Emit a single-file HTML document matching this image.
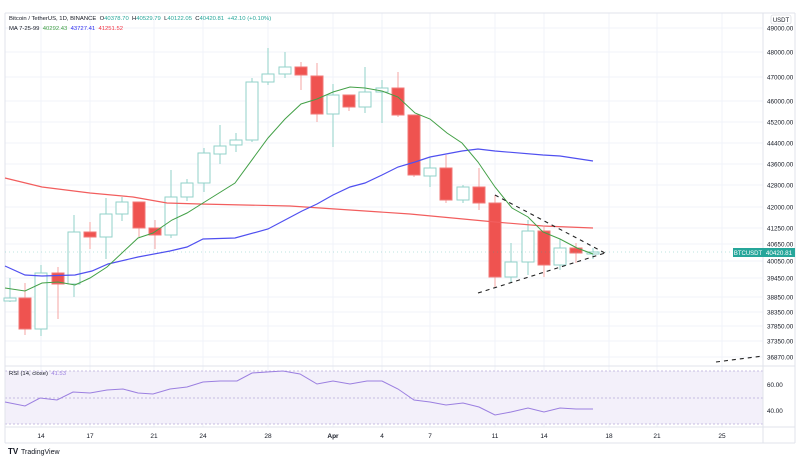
<!DOCTYPE html>
<html><head><meta charset="utf-8"><style>
html,body{margin:0;padding:0;background:#fff;width:800px;height:460px;overflow:hidden}
svg{display:block;font-family:"Liberation Sans",sans-serif}
text{white-space:pre}
</style></head><body>
<svg id="s" width="800" height="460" viewBox="0 0 800 460" xmlns="http://www.w3.org/2000/svg">
<rect x="0" y="0" width="800" height="460" fill="#fff"/>
<g id="grid"></g>
<rect x="5" y="371" width="758" height="53" fill="#f3f0fa"/>
<g stroke="#b8a9d9" stroke-width="0.8" stroke-dasharray="2,2">
<line x1="5" y1="371" x2="763" y2="371"/><line x1="5" y1="398" x2="763" y2="398"/><line x1="5" y1="424" x2="763" y2="424"/></g>
<g stroke="#e0e3eb" stroke-width="1" fill="none">
<line x1="5" y1="13" x2="795" y2="13"/><line x1="5" y1="13" x2="5" y2="443"/>
<line x1="5" y1="366" x2="795" y2="366"/><line x1="5" y1="427" x2="795" y2="427"/>
<line x1="5" y1="443" x2="795" y2="443"/><line x1="763" y1="13" x2="763" y2="443"/><line x1="795" y1="13" x2="795" y2="443"/></g>
<g id="candles"></g>
<polyline fill="none" stroke="#f25e5e" stroke-width="1.2" points="5,178 42,187 90,193 133,197 167,203 200,204 290,206 410,214 495,222 543,226 593,228"/>
<polyline fill="none" stroke="#5050f0" stroke-width="1.2" points="5,266 25,275 42,276 75,275 92,271 108,264 138,257 170,251 187,247 203,239 235,238 268,229 285,220 302,211 317,204 333,195 350,187 365,183 382,175 398,167 415,162 430,157 462,151 478,149 495,151 543,155 560,156 593,161"/>
<polyline fill="none" stroke="#43a047" stroke-width="1" points="5,288 25,291 42,283 58,282 75,285 90,278 107,267 138,238 153,233 172,220 187,213 203,203 235,183 268,138 285,119 301,104 317,99 333,92 350,87 365,88 382,91 398,97 415,113 430,119 447,133 462,143 478,162 495,187 512,208 528,217 543,232 560,239 577,248 593,254"/>
<line x1="5" y1="252" x2="763" y2="252" stroke="#26a69a" stroke-width="0.5" stroke-dasharray="1,3" opacity="0.6"/>
<g stroke="#222" stroke-width="1.1" stroke-dasharray="4,4" fill="none">
<line x1="495" y1="195" x2="605" y2="253"/><line x1="478" y1="293" x2="605" y2="253"/>
<line x1="716" y1="362" x2="763" y2="356"/></g>
<polyline fill="none" stroke="#9b7fe0" stroke-width="1" points="5,402 25,406 40,398 57,400 73,392 90,393 107,390 123,389 138,393 153,394 170,389 187,387 203,382 220,381 237,381 252,373 267,372 283,371 300,374 317,384 333,381 350,384 367,381 382,381 398,389 414,400 430,402 446,405 463,403 479,407 495,415 511,412 528,408 544,412 560,408 576,409 593,409"/>
<g font-size="5.9" fill="#131722">
<text x="9" y="20" xml:space="preserve">Bitcoin / TetherUS, 1D, BINANCE  O<tspan fill="#26a69a">40378.70</tspan>  H<tspan fill="#26a69a">40529.79</tspan>  L<tspan fill="#26a69a">40122.05</tspan>  C<tspan fill="#26a69a">40420.81</tspan>  <tspan fill="#26a69a">+42.10 (+0.10%)</tspan></text>
<text x="9" y="30" xml:space="preserve">MA 7-25-99  <tspan fill="#43a047">40292.43</tspan>  <tspan fill="#3030f0">43727.41</tspan>  <tspan fill="#f23645">41251.52</tspan></text>
<text x="9" y="375" xml:space="preserve">RSI (14, close)  <tspan fill="#9b7fe0">41.53</tspan></text>
</g>
<rect x="771" y="15" width="20" height="9" rx="2" fill="#fff" stroke="#d1d4dc" stroke-width="0.6"/>
<text x="781" y="22" font-size="6" fill="#131722" text-anchor="middle">USDT</text>
<g id="plabels" font-size="6.3" fill="#131722"></g>
<rect x="733" y="248" width="30" height="9" fill="#26a69a"/>
<text x="748" y="255" font-size="6" fill="#fff" text-anchor="middle">BTCUSDT</text>
<rect x="763" y="248" width="32" height="9" fill="#26a69a"/>
<text x="779" y="255" font-size="6.3" fill="#fff" text-anchor="middle">40420.81</text>
<g font-size="6.3" fill="#131722"><text x="767" y="387">60.00</text><text x="767" y="413">40.00</text></g>
<g id="tlabels" font-size="6.5" fill="#131722" text-anchor="middle"></g>
<text x="8" y="454" font-size="8" font-weight="bold" fill="#131722">TV</text>
<text x="21" y="454" font-size="7" fill="#131722">TradingView</text>
</svg>
<script>
var NS="http://www.w3.org/2000/svg";
function el(p,t,a,txt){var e=document.createElementNS(NS,t);for(var k in a)e.setAttribute(k,a[k]);if(txt!=null)e.textContent=txt;document.getElementById(p).appendChild(e);}
var pl=[[49000,28],[48000,52],[47000,77],[46000,101],[45200,122],[44400,143],[43600,164],[42800,185],[42000,207],[41250,228],[40650,244],[40050,261],[39450,278],[38850,297],[38350,312],[37850,326],[37350,341],[36870,357]];
pl.forEach(function(p){el("grid","line",{x1:5,x2:763,y1:p[1],y2:p[1],stroke:"#f0f3fa","stroke-width":1});
 el("plabels","text",{x:767,y:p[1]+2.5},p[0].toFixed(2));});
var tl=[["14",41],["17",90],["21",154],["24",203],["28",268],["Apr",333],["4",382],["7",430],["11",495],["14",544],["18",609],["21",657],["25",722]];
tl.forEach(function(t){el("grid","line",{x1:t[1],x2:t[1],y1:13,y2:427,stroke:"#f0f3fa","stroke-width":1});
 var a={x:t[1],y:438};if(t[0]=="Apr")a["font-weight"]="bold";el("tlabels","text",a,t[0]);});
var c=[[10,278,302,298,301,1],[25,283,335,298,329,0],[41,265,336,273,329,1],[58,267,319,273,284,0],[74,215,297,232,284,1],[90,222,249,232,237,0],[106,198,259,214,237,1],[122,197,221,202,214,1],[139,202,237,202,228,0],[155,220,249,228,235,0],[171,170,238,197,235,1],[187,179,201,183,197,1],[204,148,192,153,183,1],[220,125,164,146,154,1],[236,133,152,140,145,1],[252,78,142,82,140,1],[268,48,85,74,82,1],[285,52,78,67,74,1],[301,62,90,67,75,0],[317,63,122,76,114,0],[333,84,147,95,114,1],[349,95,111,95,107,0],[365,67,113,92,107,1],[382,80,123,88,92,1],[398,72,117,88,115,0],[414,115,177,115,175,0],[430,157,187,168,176,1],[446,155,203,168,200,0],[463,185,203,187,200,1],[479,168,210,187,203,0],[495,195,287,203,277,0],[511,243,283,262,277,1],[528,220,275,231,262,1],[544,227,277,231,265,0],[560,239,270,248,265,1],[576,243,263,248,253,0],[593,248,259,252,254,1]];
c.forEach(function(d){var up=d[5];
 el("candles","line",{x1:d[0],x2:d[0],y1:d[1],y2:d[2],stroke:up?"#92d2c9":"#f5a5a3","stroke-width":1});
 el("candles","rect",{x:d[0]-6,y:d[3],width:12,height:Math.max(1,d[4]-d[3]),fill:up?"#fff":"#ef5350",stroke:up?"#92d2c9":"#f07a78","stroke-width":1});});
</script>
</body></html>
